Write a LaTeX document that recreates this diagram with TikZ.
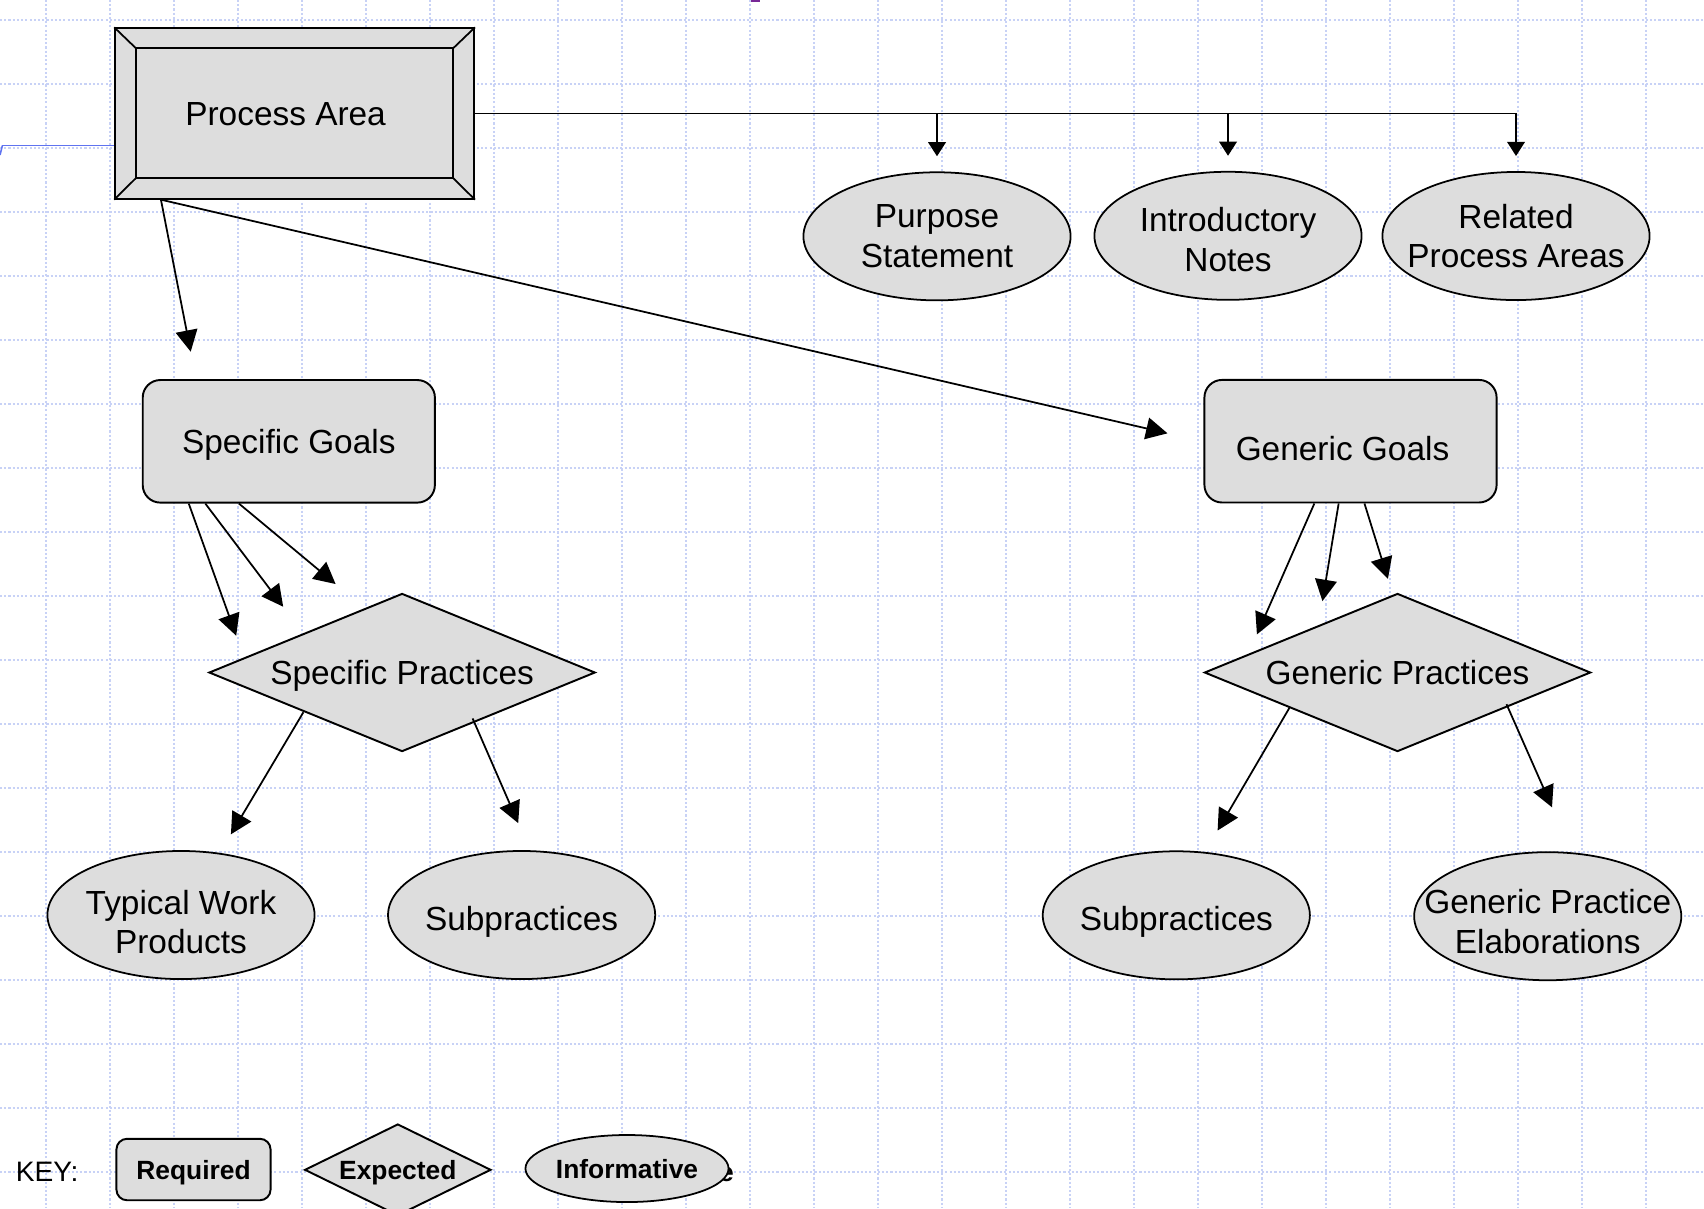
\documentclass[tikz,border=0pt]{standalone}
\usepackage{fontspec}
\setmainfont{Liberation Sans}
\usepackage{xcolor}
\usetikzlibrary{arrows.meta,calc,shapes.geometric}

\definecolor{boxgray}{RGB}{221,221,221}
\definecolor{gridblue}{RGB}{200,210,246}
\definecolor{strayblue}{RGB}{95,115,240}
\definecolor{straypurple}{RGB}{120,40,150}

\begin{document}
\begin{tikzpicture}[x=0.01cm,y=-0.01cm,>={Triangle[length=6.1pt,width=6.2pt]},line width=0.5pt,font=\fontsize{9.5}{11.3}\selectfont]
\tikzstyle{gridline}=[gridblue, line width=0.55pt, dash pattern=on 0.6pt off 0.6pt]
\tikzstyle{processarea}=[rectangle, draw, line width=0.55pt, fill=boxgray, minimum width=3.586cm, minimum height=1.703cm, text height=6.8pt, text depth=0pt]
\tikzstyle{required}=[rectangle, rounded corners=5pt, draw, line width=0.55pt, fill=boxgray, minimum width=2.92cm, minimum height=1.225cm, text height=6.8pt, text depth=0pt]
\tikzstyle{expected}=[diamond, draw, line width=0.55pt, fill=boxgray, aspect=2.45, inner sep=0pt, minimum width=3.86cm, minimum height=1.58cm, text height=6.8pt, text depth=0pt]
\tikzstyle{informative}=[ellipse, draw, fill=boxgray, inner sep=0pt, minimum width=2.67cm, minimum height=1.28cm]
\tikzstyle{every label}=[align=center]
\tikzstyle{keyfont}=[font=\fontsize{7.5}{9}\selectfont\bfseries]
\tikzstyle{droparrow}=[->, >={Triangle[length=4pt,width=5pt]}, shorten >=4.3pt]

\useasboundingbox (0,0) rectangle (1704,1208);
\clip (0,0) rectangle (1704,1208);

\foreach \k in {0,...,25}
  \draw[gridline] (46+64*\k,0) -- (46+64*\k,1208);
\foreach \k in {0,...,18}
  \draw[gridline] (0,20+64*\k) -- (1704,20+64*\k);

\node[processarea] (pa) at (294.6,113.5) {Process Area\kern0.18cm};
\draw ($(pa.north west)+(21.8,21)$) rectangle ($(pa.south east)+(-21.9,-21.7)$);
\draw (pa.north west) -- ++(21.8,21);
\draw (pa.north east) -- ++(-21.9,21);
\draw (pa.south west) -- ++(21.8,-21.7);
\draw (pa.south east) -- ++(-21.9,-21.7);

\node[informative, label={center:Purpose\\Statement}] (ps) at (937,236.3) {};
\node[informative, label={[yshift=-1.1pt]center:Introductory\\Notes}] (ip) at (1228,235.8) {};
\node[informative, label={center:Related\\Process Areas}] (rpa) at (1516,236) {};

\node[required] (sg) at (288.8,441.3) {Specific Goals};
\node[required] (gg) at (1350.5,441.2) {\raisebox{-2pt}{Generic Goals}\kern0.16cm};

\node[expected] (sp) at (402.1,672.5) {Specific Practices};
\node[expected] (gp) at (1397.5,672.5) {Generic Practices};

\node[informative, label={[yshift=-2pt]center:Typical Work\\Products}] (twp) at (181,915) {};
\node[informative, label={[text depth=0pt,yshift=-1pt]center:Subpractices}] (ssub) at (521.6,915) {};
\node[informative, label={[text depth=0pt,yshift=-1pt]center:Subpractices}] (gsub) at (1176.3,915.3) {};
\node[informative, label={[yshift=-1.5pt]center:Generic Practice\\Elaborations}] (gpe) at (1547.7,916.2) {};

\node[anchor=west, inner sep=0pt, font=\fontsize{8}{9.6}\selectfont] (key) at (15,1172) {KEY:};
\node[required, keyfont, rounded corners=3pt, minimum width=1.54cm, minimum height=0.614cm, text height=5.4pt] (kreq) at (193.5,1169.5) {Required};
\node[expected, keyfont, aspect=2.03, minimum width=1.862cm, minimum height=0.916cm, text height=5.4pt] (kexp) at (397.8,1169.8) {Expected};
\node[keyfont, anchor=base, inner sep=0pt] (kstray) at (726.5,1181) {e};
\node[informative, minimum width=2.03cm, minimum height=0.67cm, label={[keyfont, text depth=0pt]center:Informative}] (kinf) at (627,1168.5) {};

\coordinate (sgtip) at (190.7,351.7);
\coordinate (ggtip) at (1167.5,433.3);
\coordinate (sptip1) at (236.2,635.7);
\coordinate (sptip2) at (283.2,606.7);
\coordinate (sptip3) at (335.6,584);
\coordinate (twptip) at (230.9,834.3);
\coordinate (ssubtip) at (518.2,823.1);
\coordinate (gptip1) at (1256.9,634.4);
\coordinate (gptip2) at (1322.4,601.1);
\coordinate (gptip3) at (1387.9,578.9);
\coordinate (gsubtip) at (1217.6,830.5);
\coordinate (gpetip) at (1552,807.3);
\coordinate (stray) at (2.4,145.6);

\draw[strayblue, line width=0.45pt] (stray) -- (stray -| pa.west);
\draw[strayblue, line width=0.45pt] (stray) -- ++(-2.4,9.4);
\fill[straypurple] (751,0) rectangle (760,1.5);

\draw[droparrow] (pa.east) -| (rpa.north);
\draw[droparrow] (pa.east -| ps.north) -- (ps.north);
\draw[droparrow] (pa.east -| ip.north) -- (ip.north);

\path[->]
	($(pa.south west)+(46.7,0)$) edge (sgtip)
	($(pa.south west)+(46.7,0)$) edge (ggtip)
	($(sg.south west)+(47,0)$) edge (sptip1)
	($(sg.south west)+(63.6,0)$) edge (sptip2)
	($(sg.south west)+(97.2,0)$) edge (sptip3)
	($(sp.center)+(-98.7,39.7)$) edge (twptip)
	($(sp.center)+(70.5,45.9)$) edge (ssubtip)
	($(gg.south west)+(110.9,0)$) edge (gptip1)
	($(gg.south west)+(135.2,0)$) edge (gptip2)
	($(gg.south west)+(161,0)$) edge (gptip3)
	($(gp.center)+(-107.9,35)$) edge (gsubtip)
	($(gp.center)+(109,31.7)$) edge (gpetip);
\end{tikzpicture}
\end{document}
